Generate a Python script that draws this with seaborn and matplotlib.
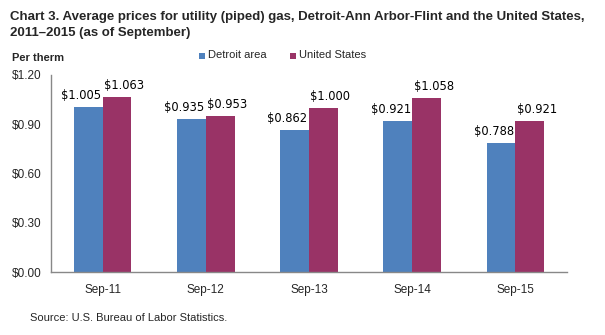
import matplotlib
matplotlib.use("Agg")
import matplotlib.pyplot as plt
import seaborn as sns
import pandas as pd
import numpy as np
from matplotlib.patches import Rectangle
from matplotlib.transforms import offset_copy

categories = ["Sep-11", "Sep-12", "Sep-13", "Sep-14", "Sep-15"]
detroit = [1.005, 0.935, 0.862, 0.921, 0.788]
us = [1.063, 0.953, 1.000, 1.058, 0.921]
series = ["Detroit area", "United States"]
yticks = [0.0, 0.3, 0.6, 0.9, 1.2]
colors = ["#4F81BD", "#993366"]

sns.set_style("white")
plt.rcParams['font.family'] = ['Liberation Sans', 'DejaVu Sans']

df = pd.DataFrame({
    "period": categories * 2,
    "value": detroit + us,
    "series": [series[0]] * len(categories) + [series[1]] * len(categories),
})

fig = plt.figure(figsize=(6.05, 3.35), dpi=100)
ax = fig.add_axes([51/605, 1 - 272/335, (567 - 51)/605, (272 - 75)/335])

sns.barplot(data=df, x="period", y="value", hue="series", order=categories,
            hue_order=series, palette=colors, width=0.56, gap=0, saturation=1,
            legend=False, ax=ax, edgecolor="none")

for k, cont in enumerate(ax.containers):
    dx = -7 if k == 0 else 7
    for bar, v in zip(cont.patches, cont.datavalues):
        cx = bar.get_x() + bar.get_width() / 2
        tr = offset_copy(ax.transData, fig=fig, x=dx, y=5, units="dots")
        ax.text(cx, bar.get_height(), f"${v:.3f}", transform=tr, ha="center", va="bottom",
                fontsize=8.3, family="DejaVu Sans", color="black")

ax.set_ylim(0, 1.2)
ax.set_xlim(-0.5, len(categories) - 0.5)
ax.set_yticks(yticks)
ax.set_yticklabels([f"${v:.2f}" for v in yticks], fontsize=8.5)
ax.set_xticks(range(len(categories)))
ax.set_xticklabels(categories, fontsize=8.5)
ax.set_xticks(np.arange(-0.5, len(categories), 1.0), minor=True)
ax.tick_params(axis="x", which="major", length=0, pad=9)
ax.tick_params(axis="x", which="minor", length=5, color="#888888", width=1)
ax.tick_params(axis="y", which="major", length=4, color="#888888", width=1, pad=3)
ax.set_xlabel("")
ax.set_ylabel("")
for s in ["top", "right"]:
    ax.spines[s].set_visible(False)
for s in ["left", "bottom"]:
    ax.spines[s].set_color("#888888")
    ax.spines[s].set_linewidth(1)

fig.text(10/605, 1 - 11/335, "Chart 3. Average prices for utility (piped) gas, Detroit-Ann Arbor-Flint and the United States,\n2011\u20132015 (as of September)",
         ha="left", va="top", fontsize=9.5, fontweight="bold", linespacing=1.45)
fig.text(12/605, 1 - 58/335, "Per therm", ha="left", va="center", fontsize=8, fontweight="bold")

# legend
for i, (name, c) in enumerate(zip(series, colors)):
    x0 = [199, 290][i]
    fig.patches.append(Rectangle((x0/605, 1 - 59/335), 6/605, 6/335, transform=fig.transFigure,
                                 facecolor=c, edgecolor="none"))
    fig.text((x0 + 9)/605, 1 - 55/335, name, ha="left", va="center", fontsize=8)

fig.text(30/605, 1 - 318/335, "Source: U.S. Bureau of Labor Statistics.", ha="left", va="center", fontsize=8)

fig.savefig("out.png", dpi=100)
